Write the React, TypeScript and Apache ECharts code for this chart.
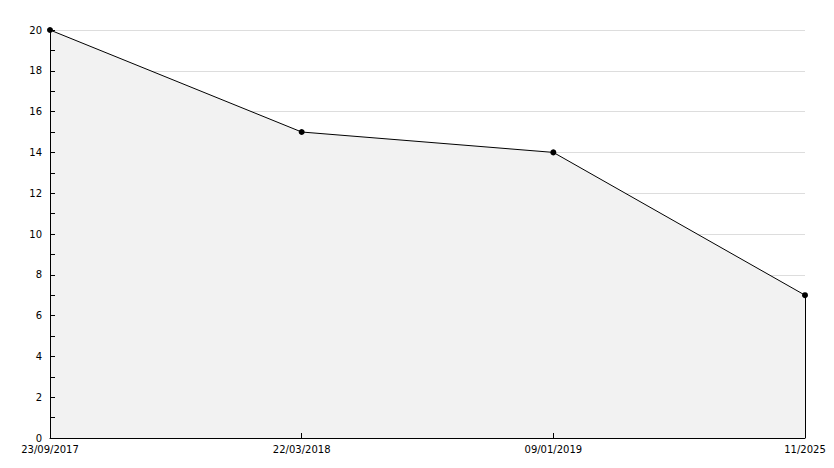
import React, { useEffect, useRef } from "react";
import * as echarts from "echarts";

const categories = ["23/09/2017", "22/03/2018", "09/01/2019", "11/2025"];
const values = [20, 15, 14, 7];

export default function App() {
  const ref = useRef<HTMLDivElement>(null);
  useEffect(() => {
    const chart = echarts.init(ref.current!, null, { renderer: "svg" });
    const font = "DejaVu Sans";
    const last = categories.length - 1;
    const tickStyle = { color: "#000", width: 1 };
    chart.setOption({
      animation: false,
      backgroundColor: "#ffffff",
      grid: { left: 50, right: 29, top: 30, bottom: 30, containLabel: false },
      xAxis: [
        {
          type: "category",
          data: categories,
          boundaryGap: false,
          z: 0,
          axisLine: { show: false },
          axisTick: { show: false },
          axisLabel: { color: "#000", fontFamily: font, fontSize: 10, margin: 6 },
          splitLine: { show: false },
        },
        {
          type: "category",
          data: categories,
          boundaryGap: false,
          position: "bottom",
          z: 5,
          axisLine: { show: true, onZero: false, lineStyle: tickStyle },
          axisTick: { show: true, inside: true, length: 5, lineStyle: tickStyle },
          axisLabel: { show: false },
          splitLine: { show: false },
        },
      ],
      yAxis: [
        {
          type: "value",
          min: 0,
          max: 20,
          interval: 2,
          z: 0,
          axisLine: { show: false },
          axisTick: { show: false },
          axisLabel: { color: "#000", fontFamily: font, fontSize: 10, margin: 8 },
          splitLine: { show: true, lineStyle: { color: "#dddddd", width: 1 } },
        },
        {
          type: "value",
          min: 0,
          max: 20,
          interval: 2,
          position: "left",
          z: 5,
          axisLine: { show: true, onZero: false, lineStyle: tickStyle },
          axisTick: { show: true, inside: true, length: 5, lineStyle: tickStyle },
          minorTick: { show: true, splitNumber: 2, length: 5, lineStyle: tickStyle },
          axisLabel: { show: false },
          splitLine: { show: false },
        },
      ],
      series: [
        {
          type: "line",
          data: values,
          z: 2,
          symbol: "circle",
          symbolSize: 6,
          itemStyle: { color: "#000" },
          lineStyle: { color: "#000", width: 1 },
          areaStyle: { color: "#f2f2f2", opacity: 1 },
          markLine: {
            silent: true,
            symbol: "none",
            label: { show: false },
            lineStyle: { color: "#000", width: 1, type: "solid" },
            data: [[{ coord: [last, 0] }, { coord: [last, values[last]] }]],
          },
        },
      ],
    });
    return () => chart.dispose();
  }, []);
  return <div ref={ref} style={{ width: 834, height: 468, margin: -8 }} />;
}
